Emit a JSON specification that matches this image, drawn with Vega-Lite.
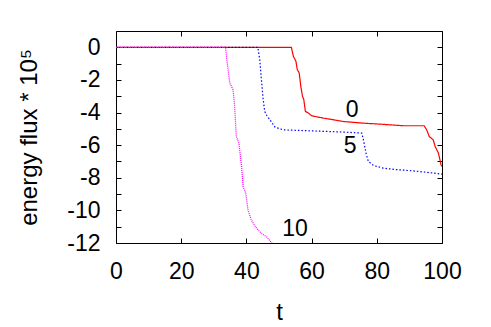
{
  "$schema": "https://vega.github.io/schema/vega-lite/v6.json",
  "width": 326,
  "height": 212,
  "autosize": {"type": "none"},
  "padding": {"left": 116, "top": 31, "right": 49, "bottom": 84},
  "background": "white",
  "config": {
    "view": {"stroke": null},
    "font": "Liberation Sans",
    "axis": {
      "grid": false,
      "domain": true,
      "domainColor": "#000",
      "domainWidth": 1,
      "tickColor": "#000",
      "tickSize": -5,
      "labelFont": "Liberation Sans",
      "labelFontSize": 23,
      "labelColor": "#000",
      "titleFont": "Liberation Sans",
      "titleFontSize": 24,
      "titleFontWeight": "normal",
      "titleColor": "#000"
    }
  },
  "datasets": {
    "curves": [
      {"t": 0, "y": 0, "s": "0"},
      {"t": 53.8, "y": 0, "s": "0"},
      {"t": 54.4, "y": -0.55, "s": "0"},
      {"t": 55.2, "y": -0.86, "s": "0"},
      {"t": 55.6, "y": -1.37, "s": "0"},
      {"t": 56.2, "y": -1.58, "s": "0"},
      {"t": 56.7, "y": -2.4, "s": "0"},
      {"t": 57.2, "y": -3.0, "s": "0"},
      {"t": 57.6, "y": -3.2, "s": "0"},
      {"t": 58.1, "y": -3.93, "s": "0"},
      {"t": 59.0, "y": -4.03, "s": "0"},
      {"t": 60.0, "y": -4.2, "s": "0"},
      {"t": 63.6, "y": -4.34, "s": "0"},
      {"t": 66.6, "y": -4.44, "s": "0"},
      {"t": 69.7, "y": -4.55, "s": "0"},
      {"t": 75.8, "y": -4.65, "s": "0"},
      {"t": 80.9, "y": -4.71, "s": "0"},
      {"t": 88.1, "y": -4.81, "s": "0"},
      {"t": 94.5, "y": -4.81, "s": "0"},
      {"t": 95.3, "y": -5.06, "s": "0"},
      {"t": 96.1, "y": -5.47, "s": "0"},
      {"t": 97.3, "y": -5.67, "s": "0"},
      {"t": 97.9, "y": -6.08, "s": "0"},
      {"t": 98.9, "y": -6.49, "s": "0"},
      {"t": 99.7, "y": -7.2, "s": "0"},
      {"t": 100, "y": -7.3, "s": "0"},
      {"t": 0, "y": 0, "s": "5"},
      {"t": 43.5, "y": 0, "s": "5"},
      {"t": 44.1, "y": -0.76, "s": "5"},
      {"t": 44.6, "y": -1.98, "s": "5"},
      {"t": 45.1, "y": -3.1, "s": "5"},
      {"t": 45.6, "y": -3.93, "s": "5"},
      {"t": 46.3, "y": -4.2, "s": "5"},
      {"t": 47.2, "y": -4.44, "s": "5"},
      {"t": 48.8, "y": -4.9, "s": "5"},
      {"t": 51.3, "y": -5.06, "s": "5"},
      {"t": 59.5, "y": -5.12, "s": "5"},
      {"t": 70, "y": -5.2, "s": "5"},
      {"t": 75.4, "y": -5.26, "s": "5"},
      {"t": 75.9, "y": -5.67, "s": "5"},
      {"t": 76.7, "y": -6.49, "s": "5"},
      {"t": 77.4, "y": -7.0, "s": "5"},
      {"t": 79, "y": -7.25, "s": "5"},
      {"t": 82, "y": -7.41, "s": "5"},
      {"t": 86, "y": -7.5, "s": "5"},
      {"t": 91.3, "y": -7.58, "s": "5"},
      {"t": 96, "y": -7.68, "s": "5"},
      {"t": 100, "y": -7.78, "s": "5"},
      {"t": 0, "y": 0, "s": "10"},
      {"t": 33.6, "y": 0, "s": "10"},
      {"t": 34.0, "y": -0.76, "s": "10"},
      {"t": 34.9, "y": -2.19, "s": "10"},
      {"t": 35.9, "y": -2.6, "s": "10"},
      {"t": 36.4, "y": -3.63, "s": "10"},
      {"t": 36.9, "y": -5.47, "s": "10"},
      {"t": 37.7, "y": -5.88, "s": "10"},
      {"t": 38.5, "y": -7.3, "s": "10"},
      {"t": 39.0, "y": -8.54, "s": "10"},
      {"t": 39.8, "y": -8.95, "s": "10"},
      {"t": 40.5, "y": -9.98, "s": "10"},
      {"t": 41.5, "y": -10.59, "s": "10"},
      {"t": 43.1, "y": -11.1, "s": "10"},
      {"t": 44.6, "y": -11.41, "s": "10"},
      {"t": 46.2, "y": -11.62, "s": "10"},
      {"t": 47.7, "y": -11.98, "s": "10"},
      {"t": 48.5, "y": -12.2, "s": "10"}
    ],
    "labels": [
      {"t": 72.4, "y": -3.83, "text": "0"},
      {"t": 71.8, "y": -6.04, "text": "5"},
      {"t": 54.9, "y": -11.14, "text": "10"}
    ]
  },
  "layer": [
    {
      "data": {"name": "curves"},
      "mark": {"type": "line", "clip": true, "strokeWidth": 1.2},
      "encoding": {
        "x": {
          "field": "t", "type": "quantitative",
          "scale": {"domain": [0, 100], "nice": false, "zero": false},
          "axis": {"values": [0, 20, 40, 60, 80, 100], "title": "t", "labelPadding": 22, "labelDx": 3, "titlePadding": 17, "labelFlush": false}
        },
        "y": {
          "field": "y", "type": "quantitative",
          "scale": {"domain": [-12, 1], "nice": false, "zero": false},
          "axis": {
            "values": [-12, -11, -10, -9, -8, -7, -6, -5, -4, -3, -2, -1, 0],
            "labelExpr": "datum.value % 2 == 0 ? '' + datum.value : ''",
            "title": "energy flux * 10⁵",
            "labelPadding": 21,
            "titlePadding": 25,
            "labelFlush": false
          }
        },
        "color": {
          "field": "s", "type": "nominal",
          "scale": {"domain": ["0", "5", "10"], "range": ["#ff0000", "#0000ff", "#ff00ff"]},
          "legend": null
        },
        "strokeDash": {
          "field": "s", "type": "nominal",
          "scale": {"domain": ["0", "5", "10"], "range": [[1, 0], [1.5, 2], [1, 1]]},
          "legend": null
        }
      }
    },
    {
      "data": {"name": "labels"},
      "mark": {"type": "text", "fontSize": 23, "font": "Liberation Sans", "color": "#000", "align": "center", "baseline": "middle"},
      "encoding": {
        "x": {"field": "t", "type": "quantitative", "axis": {"orient": "top", "values": [0, 20, 40, 60, 80, 100], "labels": false, "title": null}},
        "y": {"field": "y", "type": "quantitative", "axis": {"orient": "right", "values": [-12, -11, -10, -9, -8, -7, -6, -5, -4, -3, -2, -1, 0, 1], "labels": false, "title": null}},
        "text": {"field": "text", "type": "nominal"}
      }
    }
  ],
  "resolve": {"axis": {"x": "independent", "y": "independent"}}
}
